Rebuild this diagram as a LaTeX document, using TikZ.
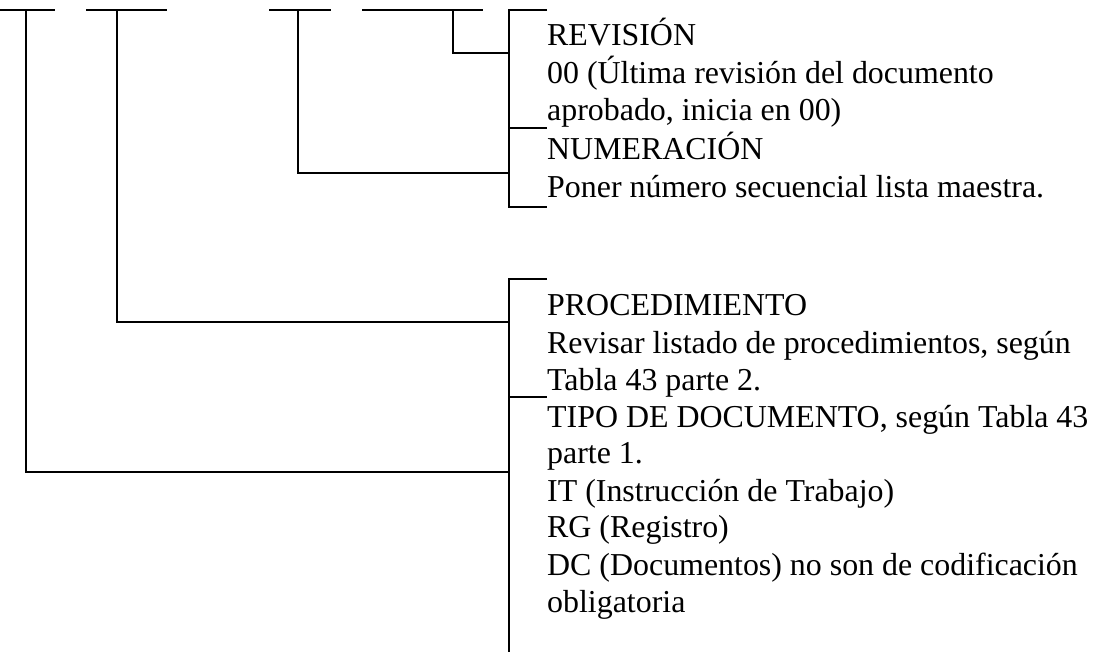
\documentclass[tikz,border=0pt]{standalone}
\usepackage{fontspec}
\setmainfont{Liberation Serif}
\tikzset{
  wire/.style={line width=1.8pt, line cap=butt, line join=miter},
  txt/.style={anchor=base west, inner sep=0pt, font=\fontsize{31.9}{37}\selectfont}
}
\begin{document}
\begin{tikzpicture}[x=1pt,y=-1pt]
\useasboundingbox (0,0) rectangle (1099,653);
% top code segments
\coordinate (s1a) at (0,10);   \coordinate (s1b) at (55,10);
\coordinate (s2a) at (86,10);  \coordinate (s2b) at (167,10);
\coordinate (s3a) at (269,10); \coordinate (s3b) at (331,10);
\coordinate (s4a) at (362,10); \coordinate (s4b) at (483,10);
\draw[wire] (s1a) -- (s1b);
\draw[wire] (s2a) -- (s2b);
\draw[wire] (s3a) -- (s3b);
\draw[wire] (s4a) -- (s4b);
% drop points
\coordinate (d1) at (26,10);  \coordinate (e1) at (509,472);
\coordinate (d2) at (117,10); \coordinate (e2) at (509,322);
\coordinate (d3) at (298,10); \coordinate (e3) at (509,173);
\coordinate (d4) at (453,10); \coordinate (e4) at (509,53);
\draw[wire] (d1) |- (e1);
\draw[wire] (d2) |- (e2);
\draw[wire] (d3) |- (e3);
\draw[wire] (d4) |- (e4);
% upper bracket
\coordinate (ub1) at (547,10);
\coordinate (ub2) at (547,128);
\coordinate (ub3) at (547,207);
\draw[wire] (ub1) -- (509,10) -- (509,207) -- (ub3);
\draw[wire] (509,128) -- (ub2);
% lower bracket
\coordinate (lb1) at (547,279);
\coordinate (lb2) at (547,397);
\coordinate (lb3) at (509,652);
\draw[wire] (lb1) -- (509,279) -- (lb3);
\draw[wire] (509,397) -- (lb2);
% texts
\node[txt] (t1) at (547,45) {REVISIÓN};
\node[txt] (t2) at (547,83) {00 (Última revisión del documento};
\node[txt] (t3) at (547,120) {aprobado, inicia en 00)};
\node[txt] (t4) at (547,159) {NUMERACIÓN};
\node[txt] (t5) at (547,197) {Poner número secuencial lista maestra.};
\node[txt] (t6) at (547,315) {PROCEDIMIENTO};
\node[txt] (t7) at (547,353) {Revisar listado de procedimientos, según};
\node[txt] (t8) at (547,390) {Tabla 43 parte 2.};
\node[txt] (t9) at (547,427) {TIPO DE DOCUMENTO, según Tabla 43};
\node[txt] (t10) at (547,463) {parte 1.};
\node[txt] (t11) at (547,501) {IT (Instrucción de Trabajo)};
\node[txt] (t12) at (547,537) {RG (Registro)};
\node[txt] (t13) at (547,575) {DC (Documentos) no son de codificación};
\node[txt] (t14) at (547,612) {obligatoria};
\end{tikzpicture}
\end{document}
